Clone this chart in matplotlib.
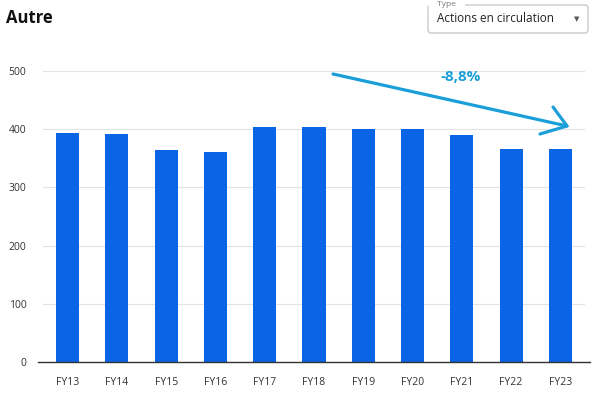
import matplotlib.pyplot as plt
import matplotlib.transforms as mtransforms
from matplotlib.patches import FancyBboxPatch
import numpy as np

plt.rcParams['font.family'] = ['Open Sans', 'DejaVu Sans']

years = ['FY13', 'FY14', 'FY15', 'FY16', 'FY17', 'FY18',
         'FY19', 'FY20', 'FY21', 'FY22', 'FY23']
shares = [393, 392, 364, 361, 404, 404, 400, 401, 390, 366, 366]
yticks = [0, 100, 200, 300, 400, 500]

bar_color = '#0a64e6'
arrow_color = '#1c9fd8'
text_color = '#333333'

fig = plt.figure(figsize=(6, 3.93), dpi=100)
ax = fig.add_axes([43/600, 1-362/393, 542/600, 291/393])

x = np.arange(len(years))
ax.bar(x, shares, width=0.47, color=bar_color, zorder=3)

ax.set_xlim(-0.5, len(years) - 0.5)
ax.set_ylim(0, 500)
ax.set_yticks(yticks)
ax.set_xticks(x)
ax.set_xticklabels(years)
ax.grid(axis='y', color='#e3e3e3', lw=0.8, zorder=0)
for s in ax.spines.values():
    s.set_visible(False)
ax.tick_params(axis='both', length=0, labelsize=7.5, colors=text_color)
ax.tick_params(axis='y', pad=12)
ax.tick_params(axis='x', pad=11)
# baseline, a bit wider than the plot area
ax.plot([-0.6, len(years) - 0.4], [0, 0], color=text_color, lw=1,
        clip_on=False, zorder=4)

# pixel coords (top-left origin) for the decorations
px = mtransforms.Affine2D().scale(1/600, -1/393).translate(0, 1) + fig.transFigure

fig.text(6, 18, 'Autre', transform=px, fontsize=12, fontweight='bold',
         color='#111111', va='center', ha='left')

# dropdown box
box = FancyBboxPatch((428, 5), 160, 28, boxstyle='round,pad=0,rounding_size=3',
                     transform=px, fill=False, ec='#c4c4c4', lw=0.9)
fig.add_artist(box)
fig.text(435, 4, ' Type ', transform=px, fontsize=6, color='#777777',
         va='center', ha='left', backgroundcolor='white')
fig.text(437, 19, 'Actions en circulation', transform=px, fontsize=8.5,
         color='#222222', va='center', ha='left')
fig.text(577, 19, '\u25BC', transform=px, fontsize=5, color='#555555',
         va='center', ha='center', family='DejaVu Sans')

# hand-drawn trend arrow
fig.add_artist(plt.Line2D([333, 567], [74, 126], transform=px,
                          color=arrow_color, lw=2.3, solid_capstyle='round'))
fig.add_artist(plt.Line2D([553, 567, 540], [107, 126, 134], transform=px,
                          color=arrow_color, lw=2.3, solid_capstyle='round',
                          solid_joinstyle='round'))
fig.text(461, 77, '-8,8%', transform=px, fontsize=11, fontweight='bold',
         color=arrow_color, va='center', ha='center')

fig.savefig('out.png', dpi=100)
